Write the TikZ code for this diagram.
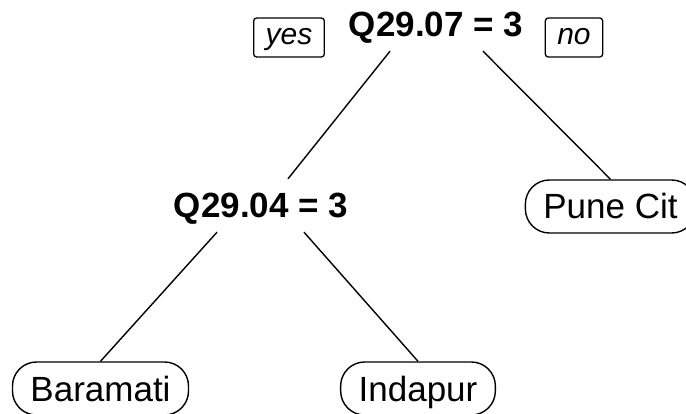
\documentclass[tikz,border=0pt]{standalone}
\usepackage{fontspec}
\setmainfont{Liberation Sans}
\begin{document}
\begin{tikzpicture}[x=1pt,y=-1pt,
  split/.style={font=\fontsize{35}{40}\selectfont\bfseries, text height=25pt, text depth=0pt,
    inner xsep=0pt, inner ysep=14pt},
  leaf/.style={draw, line width=1.4pt, rounded corners=24pt, font=\fontsize{35}{40}\selectfont,
    text height=25pt, text depth=0pt, inner xsep=18pt, inner ysep=14pt},
  tag/.style={draw, line width=1.3pt, rounded corners=3pt, font=\fontsize{30}{34}\selectfont\itshape,
    text height=21pt, text depth=6pt, inner xsep=12pt, inner ysep=6pt},
  edge/.style={line width=1.4pt}]
  \useasboundingbox (0,0) rectangle (686,414);
  \clip (0,0) rectangle (686,414);

  % split nodes
  \node[split] (root) at (436,24.5) {Q29.07 = 3};
  \node[split] (q04) at (261,205.5) {Q29.04 = 3};

  % branch labels
  \node[tag] (yes) at (289,37.5) {yes};
  \node[tag] (no) at (574,37.5) {no};

  % leaves
  \node[leaf] (pune) at (610.5,206.5) {Pune Cit};
  \node[leaf] (bara) at (100.5,388.5) {Baramati};
  \node[leaf] (inda) at (418,388.5) {Indapur};

  % connector end points around the split labels
  \coordinate (rootL) at ([xshift=-46pt]root.south);
  \coordinate (rootR) at ([xshift=47pt]root.south);
  \coordinate (q04T) at ([xshift=27pt]q04.north);
  \coordinate (q04L) at ([xshift=-44pt]q04.south);
  \coordinate (q04R) at ([xshift=43pt]q04.south);

  \draw[edge] (rootL) -- (q04T);
  \draw[edge] (rootR) -- (pune.north);
  \draw[edge] (q04L) -- (bara.north);
  \draw[edge] (q04R) -- (inda.north);
\end{tikzpicture}
\end{document}
